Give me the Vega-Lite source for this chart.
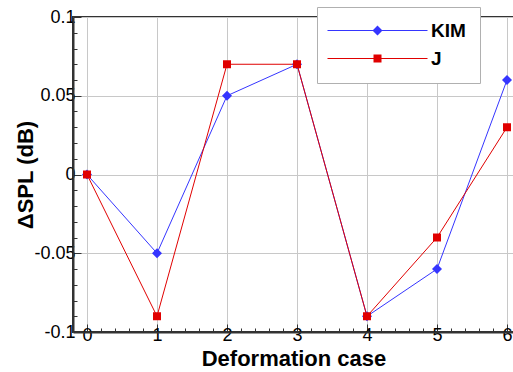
{
  "$schema": "https://vega.github.io/schema/vega-lite/v6.json",
  "width": 441,
  "height": 315,
  "autosize": {"type": "none"},
  "padding": {"left": 73, "top": 17, "right": 0, "bottom": 40},
  "config": {
    "view": {"stroke": "#333333", "strokeWidth": 2},
    "font": "Liberation Sans"
  },
  "data": {
    "values": [
      {"case": 0, "dspl": 0, "series": "KIM"},
      {"case": 1, "dspl": -0.05, "series": "KIM"},
      {"case": 2, "dspl": 0.05, "series": "KIM"},
      {"case": 3, "dspl": 0.07, "series": "KIM"},
      {"case": 4, "dspl": -0.09, "series": "KIM"},
      {"case": 5, "dspl": -0.06, "series": "KIM"},
      {"case": 6, "dspl": 0.06, "series": "KIM"},
      {"case": 0, "dspl": 0, "series": "J"},
      {"case": 1, "dspl": -0.09, "series": "J"},
      {"case": 2, "dspl": 0.07, "series": "J"},
      {"case": 3, "dspl": 0.07, "series": "J"},
      {"case": 4, "dspl": -0.09, "series": "J"},
      {"case": 5, "dspl": -0.04, "series": "J"},
      {"case": 6, "dspl": 0.03, "series": "J"}
    ]
  },
  "encoding": {
    "x": {
      "field": "case", "type": "quantitative",
      "scale": {"domain": [-0.2, 6.1], "nice": false, "zero": false},
      "axis": {
        "title": "Deformation case",
        "titleFontSize": 22, "titleFontWeight": "bold", "titleColor": "#000", "titlePadding": 4,
        "values": [0,0.2,0.4,0.6,0.8,1,1.2,1.4,1.6,1.8,2,2.2,2.4,2.6,2.8,3,3.2,3.4,3.6,3.8,4,4.2,4.4,4.6,4.8,5,5.2,5.4,5.6,5.8,6],
        "labelExpr": "abs(datum.value - round(datum.value)) < 1e-6 ? '' + round(datum.value) : ''",
        "labelFontSize": 18, "labelColor": "#000", "labelPadding": 2,
        "tickSize": {"condition": {"test": "abs(datum.value - round(datum.value)) < 1e-6", "value": -8}, "value": -4},
        "tickColor": "#333333", "tickWidth": 1,
        "grid": true,
        "gridColor": "#c8c8c8",
        "gridOpacity": {"condition": {"test": "abs(datum.value - round(datum.value)) < 1e-6", "value": 1}, "value": 0},
        "domainColor": "#333333", "domainWidth": 2
      }
    },
    "y": {
      "field": "dspl", "type": "quantitative",
      "scale": {"domain": [-0.1, 0.1], "nice": false, "zero": false},
      "axis": {
        "title": "ΔSPL (dB)",
        "titleFontSize": 22, "titleFontWeight": "bold", "titleColor": "#000", "titlePadding": -4,
        "values": [-0.1,-0.09,-0.08,-0.07,-0.06,-0.05,-0.04,-0.03,-0.02,-0.01,0,0.01,0.02,0.03,0.04,0.05,0.06,0.07,0.08,0.09,0.1],
        "labelExpr": "abs(datum.value*20 - round(datum.value*20)) < 1e-6 ? '' + round(datum.value*100)/100 : ''",
        "labelFontSize": 18, "labelColor": "#000", "labelPadding": 6,
        "tickSize": {"condition": {"test": "abs(datum.value*20 - round(datum.value*20)) < 1e-6", "value": -8}, "value": -4},
        "tickColor": "#333333", "tickWidth": 1,
        "grid": true,
        "gridColor": "#c8c8c8",
        "gridOpacity": {"condition": {"test": "abs(datum.value*20 - round(datum.value*20)) < 1e-6", "value": 1}, "value": 0},
        "domainColor": "#333333", "domainWidth": 2
      }
    },
    "color": {
      "field": "series", "type": "nominal",
      "scale": {"domain": ["KIM", "J"], "range": ["#3535ff", "#e00000"]},
      "legend": {
        "title": null,
        "orient": "none", "legendX": 244, "legendY": -10,
        "fillColor": "white", "strokeColor": "#b0b0b0", "padding": 14,
        "labelFontSize": 19, "labelFontWeight": "bold", "labelColor": "#000",
        "symbolSize": 100, "symbolStrokeWidth": 0,
        "symbolOffset": 37, "labelOffset": 44,
        "rowPadding": 8
      }
    },
    "order": {"field": "case", "type": "quantitative"}
  },
  "layer": [
    {"mark": {"type": "line", "strokeWidth": 1}},
    {
      "transform": [{"filter": "datum.series === 'KIM'"}],
      "mark": {"type": "point", "filled": true, "opacity": 1, "shape": "diamond", "size": 100, "color": "#2a2aff"}
    },
    {
      "transform": [{"filter": "datum.series === 'J'"}],
      "mark": {"type": "point", "filled": true, "opacity": 1, "shape": "square", "size": 64, "color": "#dd0000"}
    },
    {
      "transform": [{"filter": "false"}],
      "mark": {"type": "point", "filled": true},
      "encoding": {
        "shape": {
          "field": "series", "type": "nominal",
          "scale": {"domain": ["KIM", "J"], "range": ["M-10,-0.1H10V0.1H-10ZM0,-1L1,0L0,1L-1,0Z", "M-10,-0.1H10V0.1H-10ZM-0.8,-0.8H0.8V0.8H-0.8Z"]},
          "legend": {
            "title": null,
            "orient": "none", "legendX": 244, "legendY": -10,
            "fillColor": "white", "strokeColor": "#b0b0b0", "padding": 14,
            "labelFontSize": 19, "labelFontWeight": "bold", "labelColor": "#000",
            "symbolSize": 100, "symbolStrokeWidth": 0,
            "symbolOffset": 37, "labelOffset": 44,
            "rowPadding": 8
          }
        }
      }
    }
  ]
}
